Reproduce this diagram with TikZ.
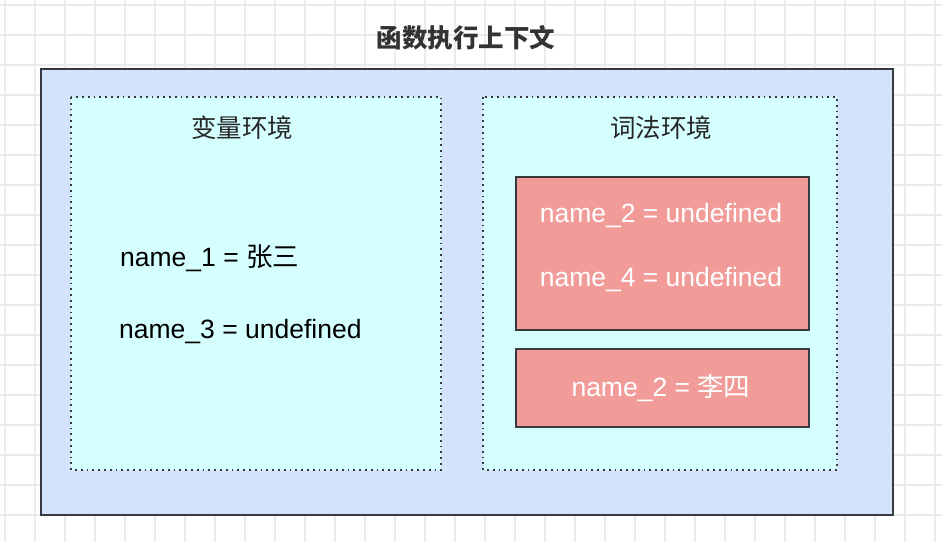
\documentclass[tikz,border=0pt]{standalone}
\usepackage{fontspec}
\setmainfont{Liberation Sans}
\newfontfamily\cjk{Noto Sans CJK SC}
\usetikzlibrary{positioning}

\definecolor{gridgray}{HTML}{EBEBEB}
\definecolor{ctxblue}{HTML}{D2E3FB}
\definecolor{envcyan}{HTML}{D5FEFF}
\definecolor{slotred}{HTML}{F19C99}
\definecolor{edgedark}{HTML}{36393D}

\begin{document}
\begin{tikzpicture}[x=1pt, y=-1pt]
\tikzset{
   every node/.style = {inner sep = 0pt, font = \fontsize{26.5}{30}\selectfont},
   ctxbox/.style = {draw = edgedark, line width = 1.6pt, fill = ctxblue},
   envbox/.style = {draw = edgedark, line width = 1.8pt, dash pattern = on 1.8pt off 4pt, fill = envcyan},
   slotbox/.style = {draw = edgedark, line width = 1.6pt, fill = slotred},
   envtitle/.style = {font = \cjk\fontsize{25.5}{30}\selectfont, text = black!85},
   entry/.style = {anchor = west, text = black},
   slot/.style = {text = white}
 }
  \useasboundingbox (0,0) rectangle (942,542);
  % background grid
  \foreach \g in {5,35,...,935}
    \draw[gridgray, line width = 1.5pt] (\g,0) -- (\g,542);
  \foreach \g in {5,35,...,540}
    \draw[gridgray, line width = 1.5pt] (0,\g) -- (942,\g);

  \node[text = black!80] (title) at (466,38) {\cjk\bfseries\fontsize{25.5}{30}\selectfont 函数执行上下文};

  \draw[ctxbox] (41,69) rectangle (893,515);
  \draw[envbox] (71,97) rectangle (441,470);
  \draw[envbox] (483,97) rectangle (837,470);
  \draw[slotbox] (516,177) rectangle (809,330);
  \draw[slotbox] (516,349) rectangle (809,427);

  % variable environment
  \node[envtitle] (var_title) at (242,128) {变量环境};
  \node[entry] (name_one) at (120,258) {name\_1 = {\cjk 张三}};
  \node[entry] (name_three) at (119,332) {name\_3 = undefined};

  % lexical environment
  \node[envtitle] (lex_title) at (661,128) {词法环境};
  \node[slot] (name_two) at (661,216) {name\_2 = undefined};
  \node[slot] (name_four) at (661,280) {name\_4 = undefined};
  \node[slot] (name_two_inner) at (661,388) {name\_2 = {\cjk 李四}};

\end{tikzpicture}
\end{document}
